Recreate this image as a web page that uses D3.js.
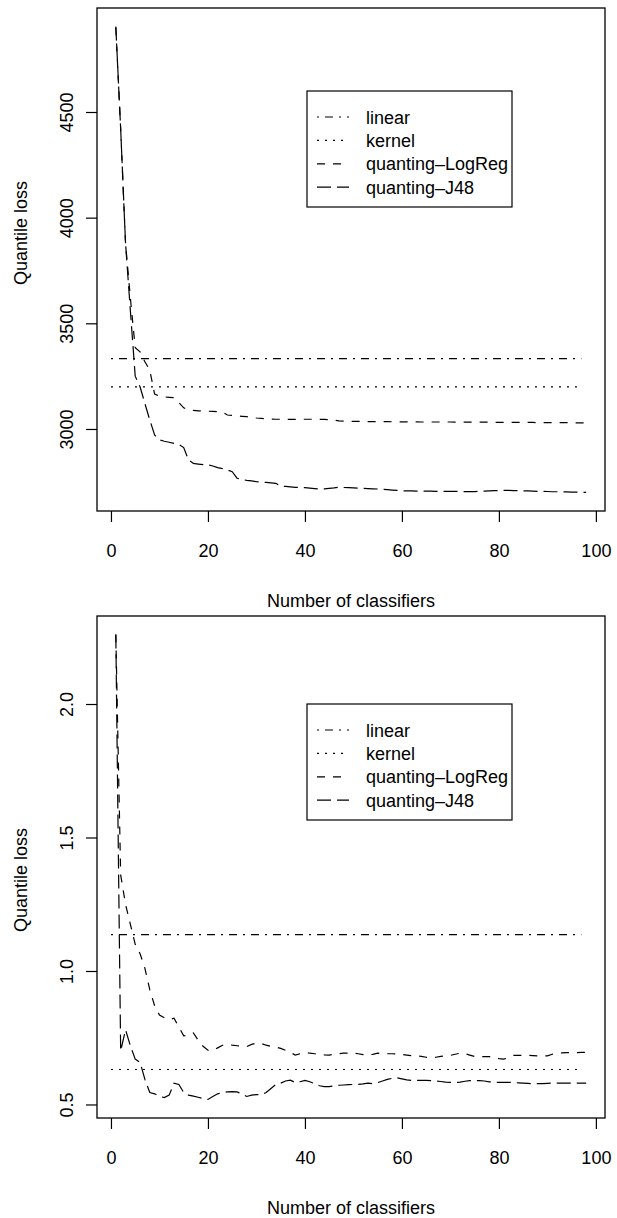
<!DOCTYPE html>
<html>
<head>
<meta charset="utf-8">
<script src="https://cdn.jsdelivr.net/npm/d3@7"></script>
<style>
  body { margin: 0; background: #fff; }
  svg text { font-family: "Liberation Sans", Arial, Helvetica, sans-serif; font-size: 18px; fill: #000; }
</style>
</head>
<body>
<script>
'use strict'

const seriesNames = ['linear', 'kernel', 'quanting\u2013LogReg', 'quanting\u2013J48']
const baselineX = [0, 97]

const topXTicks = [0, 20, 40, 60, 80, 100]
const topYTicks = [3000, 3500, 4000, 4500]
const topLinear = 3333
const topKernel = 3199
const topLogReg = [
  4900, 4420, 3880, 3620, 3385, 3365, 3318, 3279, 3165, 3155,
  3152, 3150, 3148, 3125, 3100, 3090, 3088, 3086, 3085, 3084,
  3083, 3082, 3080, 3066, 3064, 3062, 3060, 3058, 3055, 3052,
  3050, 3048, 3047, 3046, 3046, 3045, 3045, 3045, 3046, 3046,
  3046, 3046, 3045, 3045, 3044, 3042, 3038, 3037, 3037, 3036,
  3036, 3036, 3035, 3035, 3035, 3035, 3035, 3034, 3034, 3034,
  3034, 3034, 3034, 3033, 3033, 3033, 3033, 3033, 3033, 3033,
  3032, 3032, 3032, 3032, 3032, 3032, 3032, 3032, 3031, 3031,
  3031, 3031, 3031, 3031, 3031, 3031, 3031, 3030, 3030, 3030,
  3030, 3030, 3030, 3030, 3030, 3029, 3029, 3029
]
const topJ48 = [
  4904, 4420, 3880, 3560, 3250, 3200, 3120, 3043, 2972, 2948,
  2942, 2937, 2932, 2927, 2912, 2853, 2837, 2834, 2831, 2830,
  2825, 2817, 2812, 2806, 2798, 2767, 2761, 2757, 2754, 2751,
  2749, 2747, 2745, 2743, 2730, 2728, 2726, 2724, 2723, 2722,
  2720, 2718, 2716, 2717, 2719, 2721, 2724, 2723, 2722, 2721,
  2720, 2719, 2718, 2717, 2716, 2715, 2713, 2711, 2709, 2707,
  2707, 2707, 2706, 2706, 2706, 2706, 2705, 2705, 2705, 2705,
  2705, 2704, 2704, 2704, 2704, 2705, 2706, 2707, 2708, 2708,
  2709, 2709, 2708, 2708, 2707, 2707, 2706, 2705, 2705, 2704,
  2703, 2703, 2702, 2702, 2701, 2701, 2700, 2700
]

const bottomXTicks = [0, 20, 40, 60, 80, 100]
const bottomYTicks = [0.5, 1.0, 1.5, 2.0]
const bottomLinear = 1.136
const bottomKernel = 0.631
const bottomLogReg = [
  2.26, 1.36, 1.25, 1.175, 1.10, 1.065, 1.01, 0.93, 0.87, 0.835,
  0.825, 0.818, 0.823, 0.79, 0.757, 0.760, 0.768, 0.740, 0.718, 0.703,
  0.702, 0.712, 0.722, 0.725, 0.722, 0.720, 0.718, 0.717, 0.725, 0.730,
  0.728, 0.722, 0.718, 0.715, 0.710, 0.703, 0.695, 0.685, 0.690, 0.695,
  0.692, 0.690, 0.688, 0.686, 0.685, 0.688, 0.690, 0.692, 0.692, 0.692,
  0.690, 0.687, 0.685, 0.688, 0.692, 0.691, 0.690, 0.690, 0.689, 0.687,
  0.685, 0.683, 0.682, 0.680, 0.677, 0.675, 0.677, 0.680, 0.682, 0.684,
  0.688, 0.692, 0.690, 0.685, 0.680, 0.680, 0.679, 0.679, 0.676, 0.672,
  0.670, 0.675, 0.684, 0.684, 0.684, 0.684, 0.683, 0.682, 0.682, 0.682,
  0.688, 0.692, 0.693, 0.694, 0.694, 0.694, 0.695, 0.695
]
const bottomJ48 = [
  2.26, 0.70, 0.78, 0.72, 0.67, 0.658, 0.594, 0.545, 0.540, 0.530,
  0.526, 0.535, 0.580, 0.575, 0.545, 0.535, 0.531, 0.527, 0.522, 0.519,
  0.530, 0.540, 0.545, 0.547, 0.548, 0.547, 0.540, 0.530, 0.535, 0.537,
  0.536, 0.545, 0.560, 0.575, 0.580, 0.588, 0.591, 0.582, 0.585, 0.590,
  0.585, 0.578, 0.570, 0.567, 0.567, 0.570, 0.572, 0.573, 0.574, 0.575,
  0.575, 0.577, 0.580, 0.578, 0.582, 0.588, 0.594, 0.598, 0.600, 0.596,
  0.592, 0.590, 0.590, 0.590, 0.590, 0.589, 0.588, 0.586, 0.584, 0.583,
  0.582, 0.584, 0.587, 0.589, 0.589, 0.589, 0.588, 0.585, 0.583, 0.583,
  0.583, 0.583, 0.582, 0.581, 0.580, 0.579, 0.578, 0.578, 0.578, 0.579,
  0.580, 0.580, 0.580, 0.580, 0.580, 0.580, 0.580, 0.580
]

// R line types: dotdash, dotted, dashed, longdash
const dashes = ['2,6,8,6', '2,6', '8,8', '14,6']

const width = 617
const height = 1218

const svg = d3.select('body').append('svg')
  .attr('width', width)
  .attr('height', height)

function drawPanel (p) {
  const g = svg.append('g')
  const plotH = p.boxBottom - p.boxTop

  const xs = d3.range(1, p.logReg.length + 1)
  const xPad = (d3.max(xs) - d3.min(xs)) * 0.04
  const x = d3.scaleLinear()
    .domain([d3.min(xs) - xPad, d3.max(xs) + xPad])
    .range([97, 605])

  const all = p.logReg.concat(p.j48, [p.linear, p.kernel])
  const yMin = d3.min(all)
  const yMax = d3.max(all)
  const yPad = (yMax - yMin) * 0.04
  const y = d3.scaleLinear()
    .domain([yMin - yPad, yMax + yPad])
    .range([p.boxBottom, p.boxTop])

  const line = d3.line()
    .x(function (d) { return x(d[0]) })
    .y(function (d) { return y(d[1]) })

  const series = [
    baselineX.map(function (v) { return [v, p.linear] }),
    baselineX.map(function (v) { return [v, p.kernel] }),
    p.logReg.map(function (v, i) { return [xs[i], v] }),
    p.j48.map(function (v, i) { return [xs[i], v] })
  ]

  g.selectAll('path.series')
    .data(series)
    .enter()
    .append('path')
    .attr('class', 'series')
    .attr('fill', 'none')
    .attr('stroke', '#000')
    .attr('stroke-width', 1.2)
    .attr('stroke-dasharray', function (d, i) { return dashes[i] })
    .attr('d', line)

  g.append('rect')
    .attr('x', 97)
    .attr('y', p.boxTop)
    .attr('width', 508)
    .attr('height', plotH)
    .attr('fill', 'none')
    .attr('stroke', '#000')
    .attr('stroke-width', 1.3)

  const xAxis = d3.axisBottom(x)
    .tickValues(p.xTicks)
    .tickSize(11)
    .tickPadding(0)
    .tickFormat(d3.format('d'))

  const xg = g.append('g')
    .attr('transform', 'translate(0,' + p.boxBottom + ')')
    .call(xAxis)
  xg.select('.domain').remove()
  xg.selectAll('line').attr('stroke-width', 1.2)
  xg.selectAll('text')
    .attr('y', 46)
    .attr('dy', 0)
    .attr('font-size', null)
    .attr('font-family', null)

  const yAxis = d3.axisLeft(y)
    .tickValues(p.yTicks)
    .tickSize(11)
    .tickFormat(p.yFormat)

  const yg = g.append('g')
    .attr('transform', 'translate(97,0)')
    .call(yAxis)
  yg.select('.domain').remove()
  yg.selectAll('line').attr('stroke-width', 1.2)
  yg.selectAll('text')
    .attr('x', null)
    .attr('dy', null)
    .attr('font-size', null)
    .attr('font-family', null)
    .attr('text-anchor', 'middle')
    .attr('transform', 'translate(-24,0) rotate(-90)')

  g.append('text')
    .attr('x', 351)
    .attr('y', p.boxBottom + 96)
    .attr('text-anchor', 'middle')
    .text('Number of classifiers')

  g.append('text')
    .attr('text-anchor', 'middle')
    .attr('transform', 'translate(27,' + p.ylabY + ') rotate(-90)')
    .text('Quantile loss')

  const lg = g.append('g').attr('transform', 'translate(307,' + p.legendTop + ')')
  lg.append('rect')
    .attr('width', 205)
    .attr('height', 116)
    .attr('fill', 'none')
    .attr('stroke', '#000')
    .attr('stroke-width', 1.2)

  const rows = lg.selectAll('g.row')
    .data(seriesNames)
    .enter()
    .append('g')
    .attr('class', 'row')
    .attr('transform', function (d, i) { return 'translate(0,' + (26 + i * 23.4) + ')' })

  rows.append('line')
    .attr('x1', 10)
    .attr('x2', 42)
    .attr('stroke', '#000')
    .attr('stroke-width', 1.2)
    .attr('stroke-dasharray', function (d, i) { return dashes[i] })

  rows.append('text')
    .attr('x', 59)
    .attr('y', 6.5)
    .text(function (d) { return d })
}

drawPanel({
  boxTop: 8,
  boxBottom: 511,
  legendTop: 91,
  ylabY: 233,
  xTicks: topXTicks,
  yTicks: topYTicks,
  yFormat: d3.format('d'),
  linear: topLinear,
  kernel: topKernel,
  logReg: topLogReg,
  j48: topJ48
})

drawPanel({
  boxTop: 616,
  boxBottom: 1118,
  legendTop: 704,
  ylabY: 880,
  xTicks: bottomXTicks,
  yTicks: bottomYTicks,
  yFormat: d3.format('.1f'),
  linear: bottomLinear,
  kernel: bottomKernel,
  logReg: bottomLogReg,
  j48: bottomJ48
})
</script>
</body>
</html>
